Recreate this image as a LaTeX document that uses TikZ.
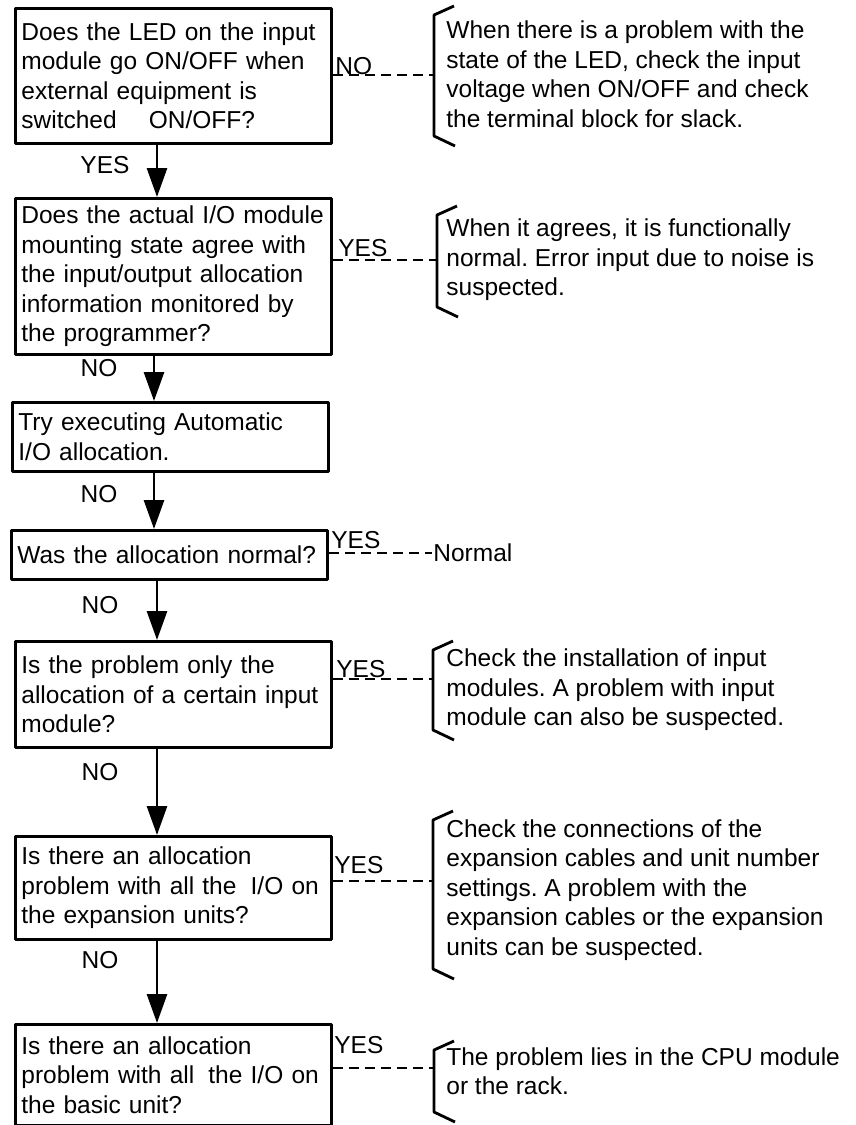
\documentclass[tikz,border=0pt]{standalone}
\usepackage{fontspec}
\setmainfont{Liberation Sans}
\usetikzlibrary{arrows.meta}
\frenchspacing

\begin{document}
\begin{tikzpicture}[x=1pt, y=-1pt, >={Triangle[width=20pt,length=29pt]}, line width=2.8pt, line join=round,
	font=\fontsize{24.5}{29.5}\selectfont,
	qbox/.style={draw, anchor=north west, minimum width=316pt, text width=304pt, inner xsep=6pt, inner ysep=0pt, align=left},
	note/.style={anchor=west, inner sep=0pt, align=left},
	tag/.style={anchor=base west, inner sep=0pt},
	link/.style={dash pattern=on 10pt off 6pt}]
	\useasboundingbox (0,0) rectangle (855,1125);
	\coordinate (ax) at (157,0);
	\coordinate (bx) at (154,0);
	\node[qbox, minimum height=135pt] (q1) at (14,7) {Does the LED on the input\\ module go ON/OFF when\\ external equipment is\\ switched\hspace{24pt} ON/OFF?};
	\node[qbox, minimum height=156pt] (q2) at (14,197) {Does the actual I/O module\\ mounting state agree with\\ the input/output allocation\\ information monitored by\\ the programmer?};
	\node[qbox, minimum height=69pt] (q3) at (11,401) {Try executing Automatic\\ I/O allocation.};
	\node[qbox, minimum height=49pt] (q4) at (10,529) {Was the allocation normal?};
	\node[qbox, minimum height=106pt] (q5) at (14,640) {Is the problem only the\\ allocation of a certain input\\ module?};
	\node[qbox, minimum height=103pt] (q6) at (14,835) {Is there an allocation\\ problem with all the\hspace{6pt} I/O on\\ the expansion units?};
	\node[qbox, minimum height=101pt] (q7) at (14,1023) {Is there an allocation\\ problem with all\hspace{6pt} the I/O on\\ the basic unit?};
	\draw[->] (q1.south -| ax) -- (q2.north -| ax);
	\draw[->] (q2.south -| bx) -- (q3.north -| bx);
	\draw[->] (q3.south -| bx) -- (q4.north -| bx);
	\draw[->] (q4.south -| ax) -- (q5.north -| ax);
	\draw[->] (q5.south -| ax) -- (q6.north -| ax);
	\draw[->] (q6.south -| ax) -- (q7.north -| ax);
	\node (y1) at (105,165) {YES};
	\node (n2) at (99,368) {NO};
	\node (n3) at (99,494) {NO};
	\node (n4) at (100,605) {NO};
	\node (n5) at (100,772) {NO};
	\node (n6) at (100,960) {NO};
	\foreach \x/\t/\b in {434/15/136, 437/215/307, 433/650/730, 433/820/969, 434/1050/1112}
		\draw (\x+20,\t-9) -- (\x,\t) -- (\x,\b) -- (\x+21,\b+10);
	\coordinate (b1) at (434,75);
	\coordinate (b2) at (437,260);
	\coordinate (b5) at (433,679);
	\coordinate (b6) at (433,881);
	\coordinate (b7) at (434,1068);
	\node[note] (ok) at (432,553) {Normal};
	\draw[link] (q1.east |- b1) -- (b1);
	\draw[link] (q2.east |- b2) -- (b2);
	\draw[link] (q4.east |- ok) -- (ok.west);
	\draw[link] (q5.east |- b5) -- (b5);
	\draw[link] (q6.east |- b6) -- (b6);
	\draw[link] (q7.east |- b7) -- (b7);
	\node[tag] (s1) at (334,74) {NO};
	\node[tag] (s2) at (337,256) {YES};
	\node[tag] (s4) at (330,548) {YES};
	\node[tag] (s5) at (335,677) {YES};
	\node[tag] (s6) at (333,873) {YES};
	\node[tag] (s7) at (333,1053) {YES};
	\node[note] (t1) at (445,74) {When there is a problem with the\\ state of the LED, check the input\\ voltage when ON/OFF and check\\ the terminal block for slack.};
	\node[note] (t2) at (445,260) {When it agrees, it is functionally\\ normal. Error input due to noise is\\ suspected.};
	\node[note] (t3) at (445,690) {Check the installation of input\\ modules. A problem with input\\ module can also be suspected.};
	\node[note] (t4) at (445,890) {Check the connections of the\\ expansion cables and unit number\\ settings. A problem with the\\ expansion cables or the expansion\\ units can be suspected.};
	\node[note] (t5) at (445,1071) {The problem lies in the CPU module\\ or the rack.};
\end{tikzpicture}
\end{document}
